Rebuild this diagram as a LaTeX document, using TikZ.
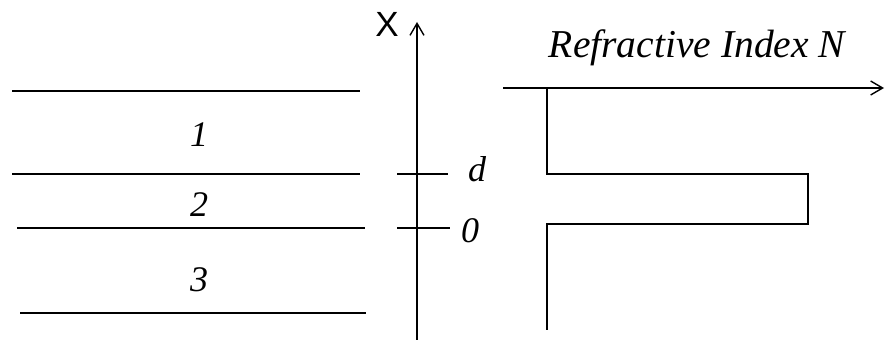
\documentclass[tikz,border=0pt]{standalone}
\usepackage{fontspec}
\setmainfont{Liberation Serif}
\newfontfamily\axfont{Liberation Sans}
\usetikzlibrary{arrows.meta}
\begin{document}
\begin{tikzpicture}[x=1pt,y=-1pt,
  ln/.style={line width=1.6pt,black},
  arr/.style={ln,-{Straight Barb[length=12pt,width=14pt,line width=1.4pt]}},
  lab/.style={font=\fontsize{36}{36}\selectfont\itshape,inner sep=0pt,anchor=base}]
\useasboundingbox (0,0) rectangle (886,344);
% layers
\coordinate (l1a) at (12,91);  \coordinate (l1b) at (360,91);
\coordinate (l2a) at (12,174); \coordinate (l2b) at (360,174);
\coordinate (l3a) at (17,228); \coordinate (l3b) at (365,228);
\coordinate (l4a) at (20,313); \coordinate (l4b) at (366,313);
\draw[ln] (l1a) -- (l1b);
\draw[ln] (l2a) -- (l2b);
\draw[ln] (l3a) -- (l3b);
\draw[ln] (l4a) -- (l4b);
\node[lab] (n1) at (199,147) {1};
\node[lab] (n2) at (199,217) {2};
\node[lab] (n3) at (199,292) {3};
% x axis
\coordinate (xb) at (417,340); \coordinate (xt) at (417,22);
\draw[arr] (xb) -- (xt);
\node[inner sep=0pt,anchor=base,font=\axfont\fontsize{35}{35}\selectfont] (X) at (387,37) {X};
\coordinate (tda) at (397,174); \coordinate (tdb) at (448,174);
\coordinate (t0a) at (397,228); \coordinate (t0b) at (450,228);
\draw[ln] (tda) -- (tdb);
\draw[ln] (t0a) -- (t0b);
\node[lab] (d) at (477,182) {d};
\node[lab] (z) at (470,243) {0};
% refractive index axis
\coordinate (na) at (503,88); \coordinate (nb) at (884,88);
\draw[arr] (na) -- (nb);
\node[lab,font=\fontsize{39.5}{39.5}\selectfont\itshape] (N) at (697,58) {Refractive Index N};
% profile
\coordinate (p1) at (547,88);
\coordinate (p2) at (547,174);
\coordinate (p3) at (808,174);
\coordinate (p4) at (808,224);
\coordinate (p5) at (547,224);
\coordinate (p6) at (547,330);
\draw[ln,line join=miter] (p1) -- (p2) -- (p3) -- (p4) -- (p5) -- (p6);
\end{tikzpicture}
\end{document}
